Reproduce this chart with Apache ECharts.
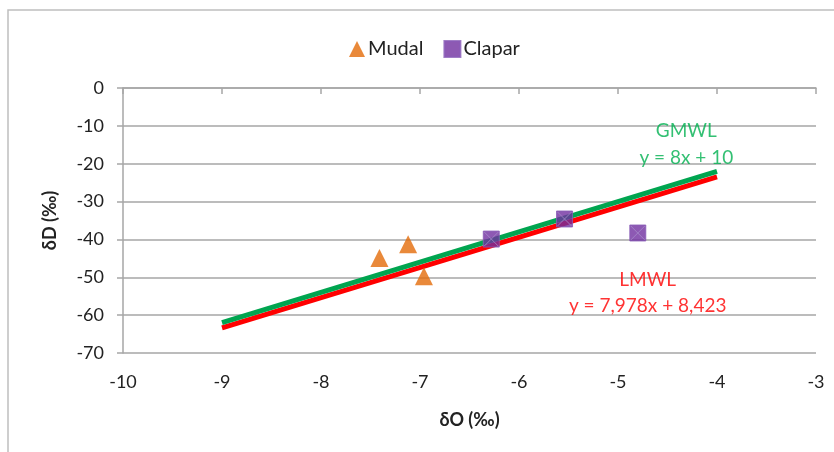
<!DOCTYPE html>
<html><head><meta charset="utf-8">
<script src="https://cdn.jsdelivr.net/npm/echarts@6/dist/echarts.min.js"></script>
<style>html,body{margin:0;padding:0;background:#fff}#c{width:834px;height:452px}</style>
</head><body><div id="c"></div>
<script>
const mudal = [[-7.41, -44.9], [-7.12, -41.3], [-6.96, -49.7]];
const clapar = [[-6.28, -39.9], [-5.54, -34.6], [-4.80, -38.3]];
const gmwlX = [-9, -4];
const gmwl = gmwlX.map(x => [x, 8 * x + 10]);
const lmwl = gmwlX.map(x => [x, 7.978 * x + 8.423]);
const gmwlLabels = [[-4.31, -11.4, 'GMWL'], [-4.31, -18.5, 'y = 8x + 10']];
const lmwlLabels = [[-4.70, -50.7, 'LMWL'], [-4.70, -57.6, 'y = 7,978x + 8,423']];
const FONT = 'Lato, "Open Sans", sans-serif';
const chart = echarts.init(document.getElementById('c'));
const labelSeries = (arr, color) => ({
  type: 'scatter', symbolSize: 1, itemStyle: {color: 'transparent'}, silent: true, z: 5,
  data: arr.map(d => ({value: [d[0], d[1]], name: d[2]})),
  label: {show: true, position: 'inside', formatter: p => p.name, color: color, fontSize: 19, fontFamily: FONT}
});
chart.setOption({
  animation: false,
  graphic: [{type: 'rect', shape: {x: 8, y: 10, width: 900, height: 500}, style: {fill: 'none', stroke: '#bfbfbf', lineWidth: 1.5}, silent: true}],
  legend: {
    top: 34, left: 344, itemGap: 20, itemWidth: 16, itemHeight: 16,
    textStyle: {fontSize: 20, fontFamily: FONT, color: '#222', padding: [0, 0, 0, -2]},
    data: [{name: 'Mudal', icon: 'triangle'}, {name: 'Clapar', icon: 'rect'}]
  },
  grid: {left: 123, right: 18, top: 88, bottom: 99},
  xAxis: {
    type: 'value', min: -10, max: -3, interval: 1,
    name: 'δO (‰)', nameLocation: 'middle', nameGap: 58,
    nameTextStyle: {fontSize: 18, fontWeight: 'bold', fontFamily: FONT, color: '#222'},
    axisLine: {show: true, lineStyle: {color: '#a6a6a6', width: 1.5}},
    axisTick: {show: true, length: 6, lineStyle: {color: '#a6a6a6', width: 1.5}},
    splitLine: {show: false},
    axisLabel: {fontSize: 18, fontFamily: FONT, color: '#222', margin: 20}
  },
  yAxis: {
    type: 'value', min: -70, max: 0, interval: 10,
    name: 'δD (‰)', nameLocation: 'middle', nameGap: 64,
    nameTextStyle: {fontSize: 18, fontWeight: 'bold', fontFamily: FONT, color: '#222'},
    axisLine: {show: true, lineStyle: {color: '#a6a6a6', width: 1.5}},
    axisTick: {show: true, length: 6, lineStyle: {color: '#a6a6a6', width: 1.5}},
    splitLine: {show: true, lineStyle: {color: '#a6a6a6', width: 1.5}},
    axisLabel: {fontSize: 18, fontFamily: FONT, color: '#222', margin: 19}
  },
  series: [
    {name: 'LMWL', type: 'line', data: lmwl, symbol: 'none', lineStyle: {color: '#ff0000', width: 5}, z: 2},
    {name: 'GMWL', type: 'line', data: gmwl, symbol: 'none', lineStyle: {color: '#00a550', width: 5}, z: 3},
    {name: 'Mudal', type: 'scatter', data: mudal, symbol: 'triangle', symbolSize: [18, 18], itemStyle: {color: '#e36c09'}, z: 4},
    {name: 'Clapar', type: 'scatter', data: clapar, symbol: 'rect', symbolSize: 16, itemStyle: {color: '#7030a0', borderColor: '#8a5cb8', borderWidth: 1}, z: 4},
    {name: 'ClaparX', type: 'scatter', data: clapar, symbol: 'path://M0,0L10,10M10,0L0,10', symbolSize: 14, itemStyle: {color: 'none', borderColor: '#a58bc9', borderWidth: 1}, z: 4, silent: true},
    labelSeries(gmwlLabels, '#00b050'),
    labelSeries(lmwlLabels, '#ff0000')
  ]
});
</script></body></html>
